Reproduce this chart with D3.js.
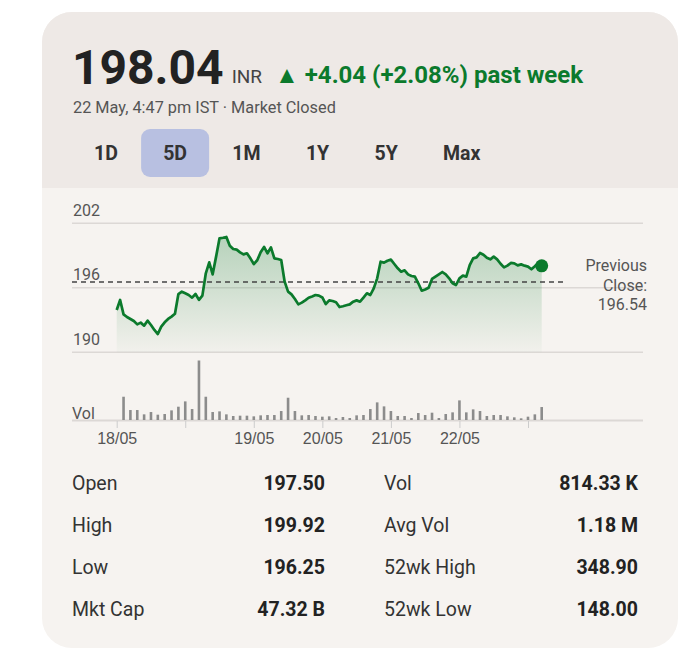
<!DOCTYPE html>
<html><head><meta charset="utf-8">
<script src="https://cdn.jsdelivr.net/npm/d3@7"></script>
<style>
body{margin:0;background:#fff;}
svg{display:block;font-family:Roboto,"Noto Sans",sans-serif;}
</style>
</head><body>
<svg id="c" width="700" height="663"></svg>
<script>
// ---------- data ----------
const price = [
193.93,194.87,193.53,193.28,193.10,192.91,192.60,192.76,192.48,192.94,
192.54,192.08,191.70,192.39,192.79,193.10,193.32,193.59,195.42,195.64,
195.49,195.33,195.08,195.42,194.87,195.27,197.35,198.37,197.25,198.90,
200.60,200.66,200.73,199.92,199.61,199.55,199.30,199.11,199.21,198.74,
198.21,198.56,199.30,199.80,199.21,199.76,198.74,198.68,198.59,196.57,
195.64,195.39,194.96,194.46,194.62,194.83,195.08,195.20,195.33,195.27,
195.10,194.49,194.83,194.77,194.65,194.21,194.28,194.37,194.46,194.71,
194.83,194.71,195.08,195.49,195.33,195.95,196.88,198.43,198.34,198.52,
198.62,198.21,197.81,197.50,197.63,197.25,197.10,197.04,196.42,195.73,
195.84,196.01,196.82,197.04,197.25,197.47,197.25,196.88,196.42,196.26,
196.88,197.13,197.04,198.12,198.74,198.83,199.24,199.08,198.80,198.65,
198.90,198.65,198.24,197.90,198.06,198.31,198.28,198.09,198.18,198.06,
197.97,197.72,198.00,198.31,198.04];
// volume (thousands) per bar; bars sit on every second price sample
const volume = [
210,90,90,51,72,48,54,87,120,168,
99,537,210,72,78,51,36,39,39,33,
42,45,45,81,201,81,42,45,36,30,
33,18,27,18,42,45,99,159,123,81,
36,36,18,63,45,66,18,54,69,177,
69,96,81,36,45,45,33,24,15,30,
51,117];
const volumeSample = volume.map((v,i)=>2*(i+1));
const tickIdx = [0,20,40,60,80,100,120];
const tickLabels = ["18/05","","19/05","20/05","21/05","22/05",""];
const yTicks = [190,196,202];
const prevClose = 196.54;
const periods = ["1D","5D","1M","1Y","5Y","Max"];
const activePeriod = "5D";
const statsLeft = [["Open","197.50"],["High","199.92"],["Low","196.25"],["Mkt Cap","47.32 B"]];
const statsRight = [["Vol","814.33 K"],["Avg Vol","1.18 M"],["52wk High","348.90"],["52wk Low","148.00"]];
const lastPrice = "198.04", currency = "INR";
const changeText = "\u25B2 +4.04 (+2.08%) past week";
const dateText = "22 May, 4:47 pm IST \u00B7 Market Closed";

// ---------- drawing ----------
const GREEN = "#0b7a2c";
const svg = d3.select("#c");
const defs = svg.append("defs");
defs.append("clipPath").attr("id","card").append("rect")
  .attr("x",42).attr("y",12).attr("width",636).attr("height",636).attr("rx",30);
const grad = defs.append("linearGradient").attr("id","fillg")
  .attr("x1",0).attr("y1",0).attr("x2",0).attr("y2",1);
grad.append("stop").attr("offset","0%").attr("stop-color",GREEN).attr("stop-opacity",0.27);
grad.append("stop").attr("offset","100%").attr("stop-color",GREEN).attr("stop-opacity",0.02);

const card = svg.append("g").attr("clip-path","url(#card)");
card.append("rect").attr("x",42).attr("y",12).attr("width",636).attr("height",636).attr("fill","#f6f3f0");
card.append("rect").attr("x",42).attr("y",12).attr("width",636).attr("height",176).attr("fill","#eee9e6");

// header
const pT = svg.append("text").attr("x",72).attr("y",84)
  .attr("font-size",48).attr("font-weight",700).attr("fill","#222").text(lastPrice);
const pW = pT.node().getComputedTextLength();
const cT = svg.append("text").attr("x",72+pW+8).attr("y",83)
  .attr("font-size",19).attr("fill","#444").text(currency);
const cW = cT.node().getComputedTextLength();
svg.append("text").attr("x",72+pW+8+cW+13).attr("y",83)
  .attr("font-size",24).attr("font-weight",700).attr("fill",GREEN).text(changeText);
svg.append("text").attr("x",73).attr("y",113)
  .attr("font-size",16.3).attr("fill","#555").text(dateText);

// period buttons
let bx = 94;
periods.forEach(p=>{
  const t = svg.append("text").attr("x",bx).attr("y",160)
    .attr("font-size",19.5).attr("font-weight",700).attr("fill","#333").text(p);
  const w = t.node().getComputedTextLength();
  if(p===activePeriod){
    svg.insert("rect","text").attr("x",bx+w/2-34).attr("y",129).attr("width",68).attr("height",48)
      .attr("rx",9).attr("fill","#b8c0e1");
  }
  bx += w + 45.3;
});

// scales
const x = d3.scaleLinear().domain([0,price.length-1]).range([116.7,541.7]);
const y = d3.scaleLinear().domain([190,202]).range([352.3,223.3]);
const yv = d3.scaleLinear().domain([0,d3.max(volume)]).range([420,360.5]);

// gridlines + labels
const grid = svg.append("g");
grid.selectAll("line").data(yTicks).join("line")
  .attr("x1",72).attr("x2",643).attr("y1",d=>y(d)).attr("y2",d=>y(d))
  .attr("stroke","#dcd8d5").attr("stroke-width",1.5);
grid.selectAll("text").data(yTicks).join("text")
  .attr("x",73).attr("y",d=>y(d)-7.5).attr("font-size",16).attr("fill","#555").text(d=>d);

// area + line
const area = d3.area().x((d,i)=>x(i)).y0(y(190)).y1(d=>y(d));
svg.append("path").datum(price).attr("d",area).attr("fill","url(#fillg)");
svg.append("line").attr("x1",72).attr("x2",563).attr("y1",y(prevClose)).attr("y2",y(prevClose))
  .attr("stroke","#444").attr("stroke-width",1.3).attr("stroke-dasharray","5,4");
const line = d3.line().x((d,i)=>x(i)).y(d=>y(d));
svg.append("path").datum(price).attr("d",line).attr("fill","none")
  .attr("stroke",GREEN).attr("stroke-width",2.7).attr("stroke-linejoin","round");
svg.append("circle").attr("cx",x(price.length-1)).attr("cy",y(price[price.length-1]))
  .attr("r",6.5).attr("fill",GREEN);

// previous close label
const pc = svg.append("text").attr("text-anchor","end").attr("font-size",16).attr("fill","#555");
["Previous","Close:",prevClose.toFixed(2)].forEach((s,i)=>{
  pc.append("tspan").attr("x",647).attr("y",271+i*19.7).text(s);
});

// volume
svg.append("line").attr("x1",72).attr("x2",643).attr("y1",420.5).attr("y2",420.5)
  .attr("stroke","#dcd8d5").attr("stroke-width",2);
svg.append("g").selectAll("rect").data(volume).join("rect")
  .attr("x",(d,i)=>x(volumeSample[i])-1.3).attr("width",2.6)
  .attr("y",d=>yv(d)).attr("height",d=>420-yv(d)).attr("fill","#8c8c8c");
svg.append("text").attr("x",72).attr("y",419).attr("font-size",16).attr("fill","#555").text("Vol");

const ax = svg.append("g").attr("transform","translate(0,421)")
  .call(d3.axisBottom(x).tickValues(tickIdx).tickFormat((d,i)=>tickLabels[i]).tickSize(7).tickPadding(5));
ax.select(".domain").remove();
ax.selectAll(".tick line").attr("stroke","#ccc");
ax.selectAll(".tick text").attr("font-size",16).attr("fill","#555").attr("font-family",null);

// stats
const rowsY = [490,532,574,616];
function statCol(data, lx, rx){
  data.forEach((r,i)=>{
    svg.append("text").attr("x",lx).attr("y",rowsY[i]).attr("font-size",19.5).attr("fill","#333").text(r[0]);
    svg.append("text").attr("x",rx).attr("y",rowsY[i]).attr("text-anchor","end")
      .attr("font-size",19.5).attr("font-weight",700).attr("fill","#222").text(r[1]);
  });
}
statCol(statsLeft,72,325);
statCol(statsRight,384,638);
</script>
</body></html>
